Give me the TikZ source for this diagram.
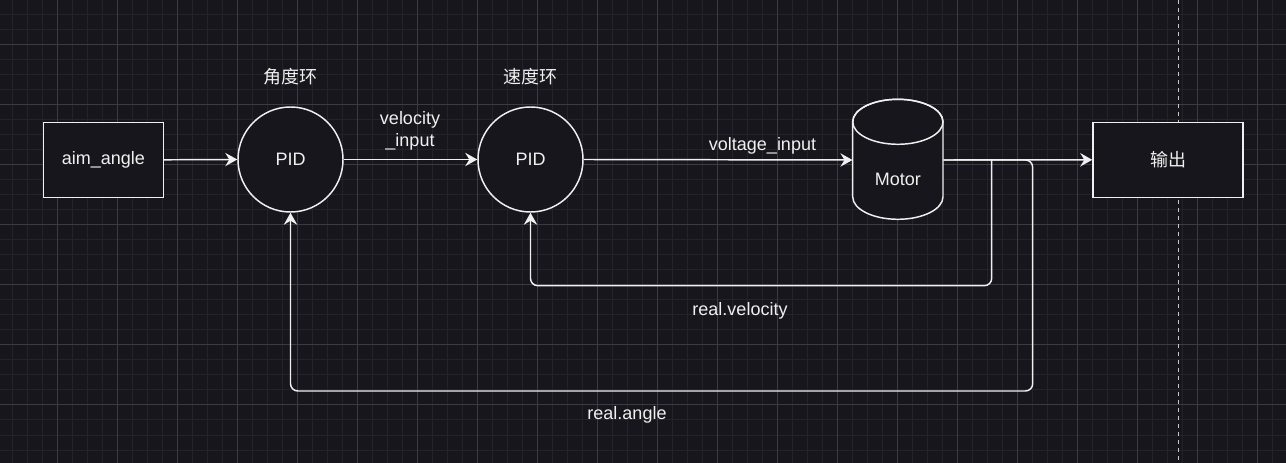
\documentclass[tikz,border=0pt]{standalone}
\usepackage{fontspec}
\setmainfont{Liberation Sans}
\newfontfamily\cjk{Noto Sans CJK SC}
\usetikzlibrary{arrows.meta}
\definecolor{bg}{HTML}{18161D}
\definecolor{gminor}{HTML}{25232A}
\definecolor{gmajor}{HTML}{3C3A42}
\definecolor{fg}{HTML}{F0F0F0}
\definecolor{dashc}{HTML}{C8C8C8}
\begin{document}
\begin{tikzpicture}[x=0.75pt,y=0.75pt,
  txt/.style={text=fg,font=\fontsize{13.5}{16.5}\selectfont},
  line/.style={draw=fg,line width=1.1pt},
  conn/.style={line,-{Stealth[length=9pt,width=10pt,inset=3pt]}},
  fbline/.style={conn,rounded corners=5.5pt},
  boxnode/.style={draw=fg,line width=1.1pt,fill=bg,inner sep=0pt,txt},
  rectbox/.style={boxnode,rectangle,minimum height=56.25pt},
  pidnode/.style={boxnode,circle,minimum size=78.75pt},
  lbl/.style={txt,inner sep=0pt,align=center}
]
\useasboundingbox (0,0) rectangle (1286,-463);
\fill[bg] (0,0) rectangle (1286,-463);
% grid
\foreach \i in {0,...,85} \draw[gminor,line width=0.75pt] ({12.3+15*\i},0) -- ++(0,-463);
\foreach \j in {0,...,31} \draw[gminor,line width=0.75pt] (0,{-15*\j}) -- ++(1286,0);
\foreach \i in {0,...,21} \draw[gmajor,line width=0.75pt] ({57.3+60*\i},0) -- ++(0,-463);
\foreach \j in {0,...,7} \draw[gmajor,line width=0.75pt] (0,{-45-60*\j}) -- ++(1286,0);
% dashed vertical line
\draw[dashc,line width=0.8pt,dash pattern=on 3pt off 3pt] (1178.7,0) -- (1178.7,-463);

% nodes
\node[rectbox,minimum width=90pt] (aim) at (103.3,-159.8) {\raisebox{-1pt}{aim\_angle}};
\node[pidnode] (pid1) at (290.5,-159.5) {\raisebox{-0.8pt}{PID}};
\node[pidnode] (pid2) at (530.5,-159.5) {\raisebox{-0.8pt}{PID}};
\node[rectbox,minimum width=112.5pt] (out) at (1168,-159.8) {\cjk 输出};

% motor cylinder
\filldraw[line,fill=bg] (852.7,-121.8) -- (852.7,-196.8) arc[start angle=180,end angle=360,x radius=33.86pt,y radius=16.875pt] -- (943,-121.8) arc[start angle=0,end angle=180,x radius=33.86pt,y radius=16.875pt] -- cycle;
\draw[line] (897.85,-121.8) ellipse [x radius=33.86pt,y radius=16.875pt];
\node[inner sep=0pt,minimum width=67.7pt,minimum height=90pt,
  label={[txt,yshift=-14.5pt]center:Motor}] (motor) at (897.85,-160) {};

% labels
\node[lbl] (l1) at (290.5,-77) {\cjk 角度环};
\node[lbl] (l2) at (530.5,-77) {\cjk 速度环};
\node[lbl] (l3) at (410,-131) {velocity\\\_input};
\node[lbl] (l4) at (762.5,-146) {voltage\_input};
\node[lbl] (l5) at (740,-311) {real.velocity};
\node[lbl] (l6) at (627,-415) {real.angle};

% connectors
\draw[conn] (aim.east) -- (pid1.west);
\draw[conn] (pid1.east) -- (pid2.west);
\draw[conn] (pid2.east) -- (motor.west);
\draw[conn] (motor.east) -- (out.west);
\coordinate (j1) at (991.7,-160);
\draw[fbline] (j1) -- (991.7,-285.7) -- (530.5,-285.7) -- (pid2.south);
\draw[fbline] (motor.east) -- (1032.7,-160) -- (1032.7,-391) -- (290.5,-391) -- (pid1.south);
\end{tikzpicture}
\end{document}
